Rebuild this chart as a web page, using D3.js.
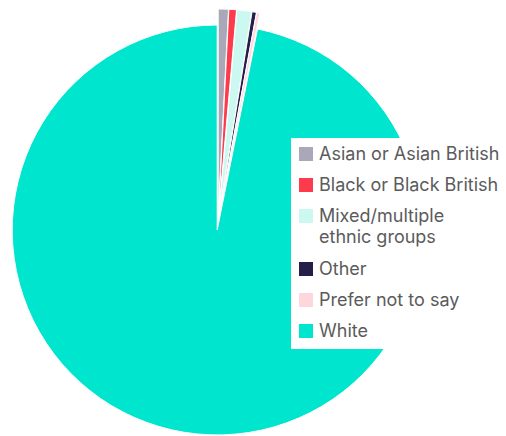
<!DOCTYPE html>
<html>
<head>
<meta charset="utf-8">
<script src="https://cdn.jsdelivr.net/npm/d3@7"></script>
<style>
  body { margin: 0; background: #fff; }
  svg { display: block; font-family: Inter, "Open Sans", sans-serif; }
  .legend text { fill: #5b5b5b; font-size: 18px; }
</style>
</head>
<body>
<div id="chart"></div>
<script>
const w = 506;
const h = 436;

const categories = ['Asian or Asian British', 'Black or Black British', 'Mixed/multiple\nethnic groups', 'Other', 'Prefer not to say', 'White'];
const values = [0.8, 0.6, 1.15, 0.35, 0.25, 96.85];
const colors = ['#aaa7b9', '#fe3b4d', '#cbf8f0', '#251e4a', '#fdd7dc', '#00e6ce'];

const cx = 218, cy = 222, radius = 205, explode = 8;

const svg = d3.select('#chart').append('svg')
  .attr('width', w)
  .attr('height', h);

const color = d3.scaleOrdinal().domain(categories).range(colors);

const pie = d3.pie()
  .sort(null)
  .value(d => d.value);

const arc = d3.arc()
  .innerRadius(0)
  .outerRadius(radius);

const data = categories.map((c, i) => ({ name: c, value: values[i] }));

const g = svg.append('g')
  .attr('transform', `translate(${cx},${cy})`);

g.selectAll('path')
  .data(pie(data))
  .enter().append('path')
    .attr('d', arc)
    .attr('fill', d => color(d.data.name))
    .attr('stroke', '#fff')
    .attr('stroke-width', 1)
    .attr('transform', d => {
      const a = (d.startAngle + d.endAngle) / 2;
      return `translate(${explode * Math.sin(a)},${-explode * Math.cos(a)})`;
    });

// legend
const legend = svg.append('g').attr('class', 'legend');

legend.append('rect')
  .attr('x', 291)
  .attr('y', 138)
  .attr('width', w - 291)
  .attr('height', 211)
  .attr('fill', '#fff');

const lineH = 21;
let y = 154;
categories.forEach(c => {
  const item = legend.append('g').attr('transform', `translate(299,${y})`);
  item.append('rect')
    .attr('x', 0)
    .attr('y', -7)
    .attr('width', 14)
    .attr('height', 14)
    .attr('fill', color(c));

  const lines = c.split('\n');
  item.append('text')
    .attr('y', 0)
    .attr('dy', '0.35em')
    .selectAll('tspan')
    .data(lines)
    .enter().append('tspan')
      .attr('x', 20)
      .attr('dy', (d, i) => i ? lineH : null)
      .text(d => d);

  y += 31 + (lines.length - 1) * 22;
});
</script>
</body>
</html>
